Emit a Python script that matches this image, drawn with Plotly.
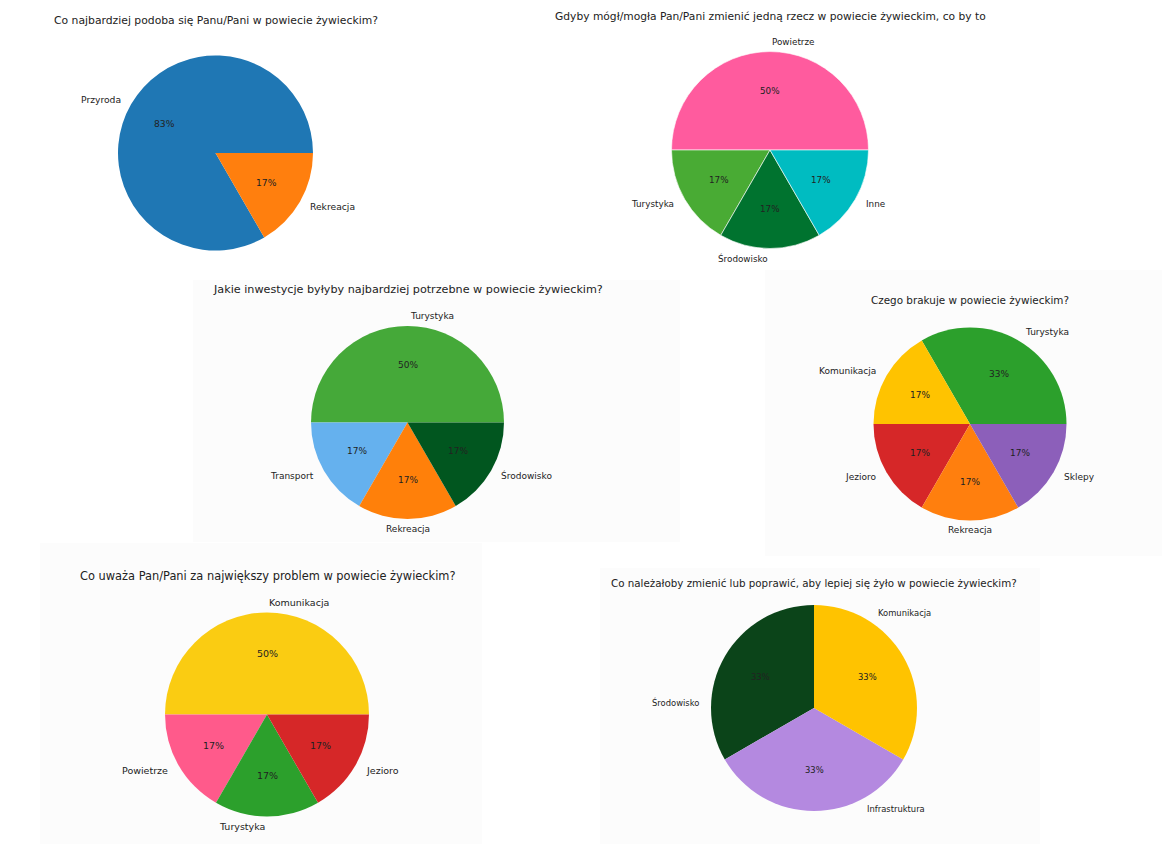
import math
import plotly.graph_objects as go

W, H = 1170, 852
OFF = 8                      # domyslny margines <body> strony
FW, FH = W - 2 * OFF, H - 2 * OFF

# --- dane ankiety (liczba odpowiedzi) ---
q1_title = "Co najbardziej podoba się Panu/Pani w powiecie żywieckim?"
q1_labels = ["Przyroda", "Rekreacja"]
q1_values = [5, 1]
q1_colors = ["#1f77b4", "#ff7f0e"]

q2_title = "Gdyby mógł/mogła Pan/Pani zmienić jedną rzecz w powiecie żywieckim, co by to"
q2_labels = ["Powietrze", "Turystyka", "Środowisko", "Inne"]
q2_values = [3, 1, 1, 1]
q2_colors = ["#ff5b9e", "#49ab34", "#00732f", "#00bcc1"]

q3_title = "Jakie inwestycje byłyby najbardziej potrzebne w powiecie żywieckim?"
q3_labels = ["Turystyka", "Transport", "Rekreacja", "Środowisko"]
q3_values = [3, 1, 1, 1]
q3_colors = ["#45a939", "#65b1ee", "#ff800a", "#01561f"]

q4_title = "Czego brakuje w powiecie żywieckim?"
q4_labels = ["Turystyka", "Komunikacja", "Jezioro", "Rekreacja", "Sklepy"]
q4_values = [2, 1, 1, 1, 1]
q4_colors = ["#2ca02c", "#ffc300", "#d62728", "#ff7f0e", "#8c5fba"]

q5_title = "Co uważa Pan/Pani za największy problem w powiecie żywieckim?"
q5_labels = ["Komunikacja", "Powietrze", "Turystyka", "Jezioro"]
q5_values = [3, 1, 1, 1]
q5_colors = ["#facc12", "#ff5a8b", "#2ca02c", "#d62728"]

q6_title = "Co należałoby zmienić lub poprawić, aby lepiej się żyło w powiecie żywieckim?"
q6_labels = ["Środowisko", "Infrastruktura", "Komunikacja"]
q6_values = [1, 1, 1]
q6_colors = ["#0b4419", "#b489e0", "#ffc300"]

FONT = "DejaVu Sans"
TXT = "#222222"


def px(x):
    return (x - OFF) / FW


def py(y):
    return 1 - (y - OFF) / FH


fig = go.Figure()

# bardzo jasne tla paneli (kolaz zrzutow)
for x0, y0, x1, y1 in [(193, 280, 680, 542), (765, 270, 1170, 556),
                       (40, 543, 482, 852), (600, 568, 1040, 852)]:
    fig.add_shape(type="rect", xref="paper", yref="paper",
                  x0=px(x0), x1=px(x1), y0=py(y1), y1=py(y0),
                  fillcolor="#fcfcfc", line_width=0, layer="below")


def add_pie(title, labels, values, colors, cx, cy, r, start=0, title_y=None,
            title_size=10.5, label_size=8.8, label_shift=0, edge=0,
            bottom_center=False):
    total = float(sum(values))
    # plotly (counterclockwise): rotation = koniec pierwszego wycinka
    rot = 90 - start - 360 * values[0] / total
    fig.add_trace(go.Pie(
        labels=labels, values=values, sort=False,
        direction="counterclockwise", rotation=rot,
        marker=dict(colors=colors, line=dict(color="white", width=edge)),
        textinfo="none", hoverinfo="label+percent", showlegend=False,
        domain=dict(x=[px(cx - r), px(cx + r)], y=[py(cy + r), py(cy - r)]),
    ))
    acc = 0.0
    for lab, v in zip(labels, values):
        t1 = start + 360 * acc / total
        acc += v
        t2 = start + 360 * acc / total
        mid = math.radians((t1 + t2) / 2)
        # procent wewnatrz (0.6 promienia)
        fig.add_annotation(
            x=px(cx + 0.6 * r * math.cos(mid)),
            y=py(cy - 0.6 * r * math.sin(mid)),
            xref="paper", yref="paper", showarrow=False,
            text=f"{100 * v / total:.0f}%",
            font=dict(family=FONT, size=label_size, color=TXT),
            xanchor="center", yanchor="middle")
        # etykieta na zewnatrz (1.1 promienia)
        lm = mid + math.radians(label_shift)
        xt = 1.1 * r * math.cos(lm)
        anchor = "left" if xt > 0 else "right"
        if bottom_center and abs(xt) < 1e-6 and math.sin(lm) < 0:
            anchor = "center"
        fig.add_annotation(
            x=px(cx + xt), y=py(cy - 1.1 * r * math.sin(lm)),
            xref="paper", yref="paper", showarrow=False, text=lab,
            font=dict(family=FONT, size=label_size, color=TXT),
            xanchor=anchor, yanchor="middle")
    fig.add_annotation(
        x=px(cx), y=py(title_y), xref="paper", yref="paper",
        showarrow=False, text=title,
        font=dict(family=FONT, size=title_size, color=TXT),
        xanchor="center", yanchor="middle")


add_pie(q1_title, q1_labels, q1_values, q1_colors, 215.5, 153, 97.5, title_y=21,
        title_size=10.8, label_size=9.2)
add_pie(q2_title, q2_labels, q2_values, q2_colors, 770, 150, 98.5, title_y=16,
        title_size=10.7, edge=0.6)
add_pie(q3_title, q3_labels, q3_values, q3_colors, 407.5, 422.5, 96.5, title_y=289,
        title_size=11.2, label_size=9, bottom_center=True)
add_pie(q4_title, q4_labels, q4_values, q4_colors, 970, 424, 96.5, title_y=300,
        title_size=10.4, label_size=9, bottom_center=True)
add_pie(q5_title, q5_labels, q5_values, q5_colors, 267, 714.5, 102, title_y=576,
        title_size=11.4, label_size=9.5)
add_pie(q6_title, q6_labels, q6_values, q6_colors, 814, 708, 103, start=90,
        title_y=583, title_size=10.3, label_size=8.4, label_shift=27)

fig.update_layout(
    width=FW, height=FH, autosize=False,
    margin=dict(l=0, r=0, t=0, b=0),
    paper_bgcolor="white", plot_bgcolor="white",
    font=dict(family=FONT, color=TXT),
)

fig.write_html("out.html")
